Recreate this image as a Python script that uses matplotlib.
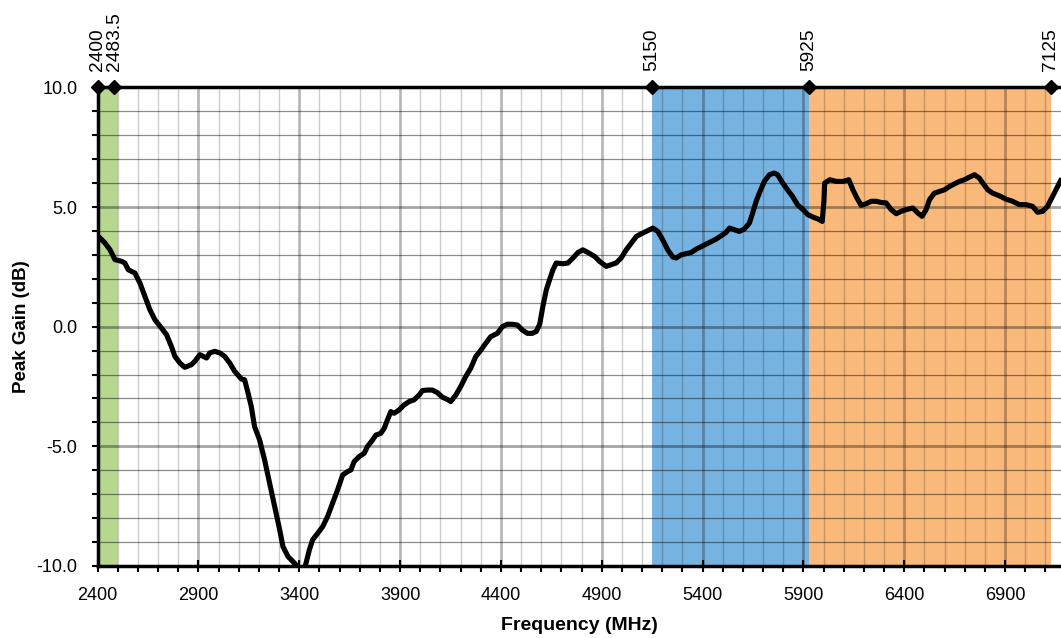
import numpy as np
import matplotlib.pyplot as plt
from matplotlib.ticker import MultipleLocator, FormatStrFormatter

plt.rcParams['font.family'] = ['Liberation Sans', 'DejaVu Sans']

# measured peak gain (MHz, dB)
freq = [2400, 2407, 2436, 2461, 2486, 2519, 2535, 2552, 2585, 2610, 2634, 2659,
        2684, 2717, 2742, 2766, 2783, 2808, 2832, 2865, 2882, 2907, 2940, 2956,
        2981, 3006, 3030, 3055, 3080, 3113, 3129, 3146, 3162, 3178, 3203, 3228,
        3253, 3278, 3303, 3319, 3344, 3377, 3393, 3412, 3433, 3450, 3466, 3491,
        3516, 3540, 3565, 3590, 3615, 3639, 3656, 3672, 3697, 3722, 3738, 3763,
        3780, 3804, 3821, 3837, 3854, 3870, 3895, 3920, 3945, 3969, 3994, 4011,
        4035, 4060, 4085, 4110, 4134, 4151, 4176, 4200, 4225, 4250, 4275, 4299,
        4324, 4349, 4382, 4407, 4431, 4456, 4481, 4506, 4531, 4555, 4575, 4592,
        4608, 4625, 4641, 4658, 4674, 4707, 4732, 4757, 4782, 4806, 4831, 4864,
        4889, 4922, 4947, 4971, 4996, 5021, 5046, 5071, 5095, 5120, 5153, 5178,
        5202, 5227, 5252, 5269, 5293, 5318, 5343, 5368, 5401, 5434, 5467, 5492,
        5516, 5533, 5558, 5582, 5607, 5632, 5648, 5665, 5681, 5706, 5731, 5755,
        5772, 5797, 5821, 5846, 5871, 5898, 5922, 5947, 5972, 5993, 6002, 6005,
        6030, 6063, 6096, 6125, 6145, 6165, 6186, 6211, 6236, 6261, 6285, 6310,
        6335, 6360, 6384, 6409, 6442, 6467, 6488, 6508, 6525, 6549, 6574, 6599,
        6624, 6649, 6673, 6698, 6723, 6748, 6772, 6789, 6814, 6838, 6871, 6904,
        6937, 6970, 7003, 7036, 7061, 7086, 7110, 7135, 7152, 7175]
gain = [3.80, 3.75, 3.50, 3.22, 2.80, 2.73, 2.66, 2.38, 2.24, 1.82, 1.27, 0.71,
        0.29, -0.06, -0.34, -0.83, -1.24, -1.52, -1.70, -1.59, -1.45, -1.17, -1.31, -1.10,
        -1.03, -1.10, -1.24, -1.52, -1.87, -2.19, -2.22, -2.78, -3.34, -4.17, -4.73, -5.57,
        -6.54, -7.52, -8.50, -9.19, -9.61, -9.89, -10.05, -10.6, -9.89, -9.33, -8.91, -8.64,
        -8.36, -7.94, -7.38, -6.82, -6.20, -6.06, -5.99, -5.64, -5.43, -5.29, -5.01, -4.74,
        -4.53, -4.46, -4.25, -3.90, -3.55, -3.62, -3.48, -3.27, -3.13, -3.06, -2.86, -2.67,
        -2.65, -2.65, -2.76, -2.95, -3.04, -3.13, -2.86, -2.51, -2.09, -1.74, -1.25, -1.00,
        -0.70, -0.42, -0.28, 0.00, 0.10, 0.10, 0.07, -0.14, -0.28, -0.28, -0.20, 0.10,
        0.85, 1.54, 1.96, 2.38, 2.66, 2.63, 2.66, 2.87, 3.10, 3.21, 3.10, 2.94,
        2.73, 2.52, 2.59, 2.66, 2.87, 3.21, 3.49, 3.77, 3.88, 3.98, 4.12, 3.98,
        3.63, 3.21, 2.91, 2.87, 3.00, 3.05, 3.10, 3.24, 3.38, 3.52, 3.66, 3.80,
        3.94, 4.12, 4.05, 3.98, 4.08, 4.33, 4.75, 5.23, 5.58, 6.07, 6.35, 6.42,
        6.35, 6.00, 5.72, 5.44, 5.09, 4.89, 4.68, 4.58, 4.50, 4.40, 5.31, 6.00,
        6.14, 6.07, 6.07, 6.14, 5.72, 5.38, 5.07, 5.14, 5.24, 5.24, 5.19, 5.17,
        4.89, 4.72, 4.82, 4.89, 4.96, 4.75, 4.61, 4.89, 5.31, 5.58, 5.65, 5.72,
        5.86, 5.97, 6.07, 6.14, 6.25, 6.35, 6.21, 6.00, 5.72, 5.58, 5.47, 5.33,
        5.24, 5.10, 5.10, 5.03, 4.78, 4.82, 5.03, 5.44, 5.72, 6.10]

# band edges shown on the top axis
edges = [2400, 2483.5, 5150, 5925, 7125]
edge_labels = ['2400', '2483.5', '5150', '5925', '7125']
bands = [(2400, 2500, '#b5d88e'), (5150, 5925, '#77b3e1'), (5925, 7125, '#f9b97b')]

fig = plt.figure(figsize=(10.61, 6.38), dpi=100)
ax = fig.add_axes([0.092, 0.113, 0.908, 0.750])

for lo, hi, col in bands:
    ax.axvspan(lo, hi, color=col, lw=0, zorder=0.1)

ax.plot(freq, gain, color='black', lw=3.7, zorder=3, solid_joinstyle='round')

ax.set_xlim(2400, 7177)
ax.set_ylim(-10, 10)
ax.set_axisbelow(True)

ax.xaxis.set_major_locator(MultipleLocator(500))
ax.xaxis.set_minor_locator(MultipleLocator(100))
ax.yaxis.set_major_locator(MultipleLocator(5))
ax.yaxis.set_minor_locator(MultipleLocator(1))
ax.yaxis.set_major_formatter(FormatStrFormatter('%.1f'))
ax.set_xticks(np.arange(2400, 7000, 500))

ax.grid(which='major', axis='x', color='black', alpha=0.28, lw=2.0)
ax.grid(which='minor', axis='x', color='black', alpha=0.2, lw=1.0)
ax.grid(which='major', axis='y', color='black', alpha=0.35, lw=2.0)
ax.grid(which='minor', axis='y', color='black', alpha=0.45, lw=0.9)

ax.tick_params(axis='x', which='major', direction='inout', length=9, width=1.5,
               labelsize=13, pad=11)
ax.tick_params(axis='x', which='minor', direction='out', length=4, width=1.5)
ax.tick_params(axis='y', which='both', direction='out', length=4.5, width=1.5,
               labelsize=13, pad=10)

for side in ['left', 'bottom', 'top']:
    ax.spines[side].set_linewidth(2.5)
ax.spines['right'].set_visible(False)

ax.set_xlabel('Frequency (MHz)', fontsize=14, fontweight='bold', labelpad=9)
ax.set_ylabel('Peak Gain (dB)', fontsize=13.5, fontweight='bold', labelpad=5)

# top axis with band edge labels and diamond markers
top = ax.twiny()
top.set_xlim(ax.get_xlim())
top.set_xticks(edges)
top.set_xticklabels(edge_labels, rotation=90, fontsize=13.8)
top.tick_params(axis='x', length=0, pad=11.5)
for s in top.spines.values():
    s.set_visible(False)
ax.plot(edges, [10] * len(edges), 'D', color='black', ms=7, clip_on=False, zorder=6)

fig.savefig('out.png', dpi=100)
